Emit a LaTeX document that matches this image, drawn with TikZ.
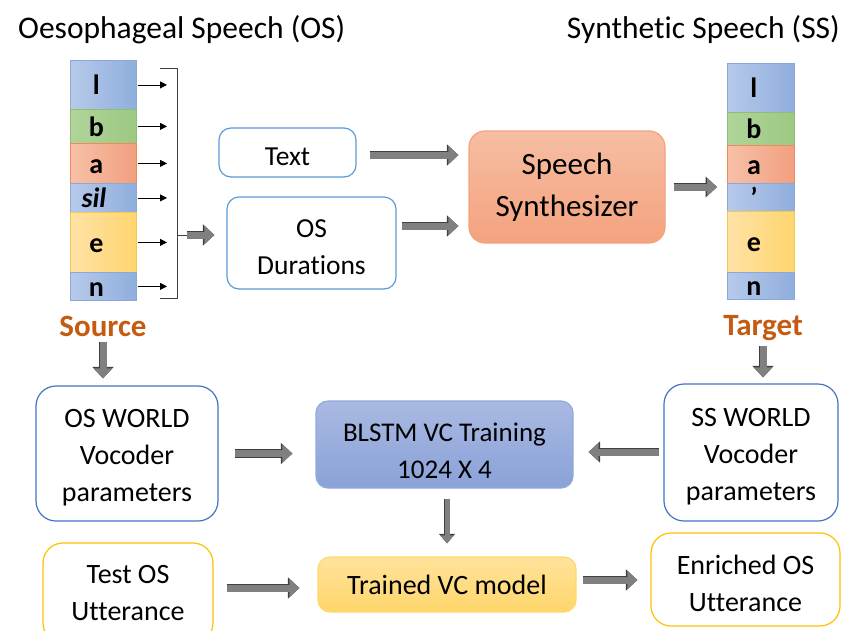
\documentclass[tikz,border=0pt]{standalone}
\usepackage{fontspec}
\setmainfont[Ligatures=NoCommon]{Carlito}
\usetikzlibrary{arrows.meta,calc}

\definecolor{segblueL}{HTML}{B7CAEA}
\definecolor{segblueR}{HTML}{8FAEDD}
\definecolor{segblueD}{HTML}{8BA8D8}
\definecolor{seggreenL}{HTML}{B0D49A}
\definecolor{seggreenR}{HTML}{9CC982}
\definecolor{seggreenD}{HTML}{8DBE72}
\definecolor{segredL}{HTML}{F7C1A8}
\definecolor{segredR}{HTML}{F29F7E}
\definecolor{segredD}{HTML}{EE8A5E}
\definecolor{segyelL}{HTML}{FFE2A6}
\definecolor{segyelR}{HTML}{FFD56E}
\definecolor{segyelD}{HTML}{F5C850}
\definecolor{boxblue}{HTML}{5B9BD5}
\definecolor{boxblue2}{HTML}{4472C4}
\definecolor{boxyel}{HTML}{FFC000}
\definecolor{synthT}{HTML}{F6BEA3}
\definecolor{synthB}{HTML}{F4A27E}
\definecolor{synthD}{HTML}{F4A37A}
\definecolor{blstmT}{HTML}{A9B9E2}
\definecolor{blstmB}{HTML}{8AA2D8}
\definecolor{blstmD}{HTML}{8FAADC}
\definecolor{trainT}{HTML}{FFE39C}
\definecolor{trainB}{HTML}{FFD66B}
\definecolor{trainD}{HTML}{FFD966}
\definecolor{arrfill}{HTML}{808080}
\definecolor{arrline}{HTML}{3F3F3F}
\definecolor{labelbrown}{HTML}{C55A11}

% invisible strut that lifts the first text line, pushing box text down
\newcommand\dropln[1]{\rule{0pt}{#1}}

\tikzset{
  x=1pt, y=-1pt,
  seglabel/.style={font=\fontsize{28}{32}\selectfont\bfseries, inner sep=0pt,
    text height=21pt, text depth=1pt, xshift=-7pt},
  seg/.style={rectangle, inner sep=0pt, minimum width=66pt, anchor=north west,
    line width=0.8pt},
  segblue/.style={seg, left color=segblueL, right color=segblueR, draw=segblueD},
  seggreen/.style={seg, left color=seggreenL, right color=seggreenR, draw=seggreenD},
  segred/.style={seg, left color=segredL, right color=segredR, draw=segredD},
  segyel/.style={seg, left color=segyelL, right color=segyelR, draw=segyelD},
  box/.style={rectangle, rounded corners=12pt, line width=1.2pt, align=center,
    inner sep=0pt, font=\fontsize{28}{37}\selectfont},
  bluebox/.style={box, draw=boxblue, fill=white, font=\fontsize{27.5}{37}\selectfont},
  bluebox2/.style={box, draw=boxblue2, fill=white, rounded corners=20pt},
  yelbox/.style={box, draw=boxyel, fill=white, rounded corners=20pt},
  barrow/.style={draw=arrfill, line width=7pt,
    -{Triangle[length=10pt,width=18pt]},
    preaction={draw=arrline, line width=8.6pt, -{Triangle[length=11.5pt,width=20.5pt]}}},
  barrowthin/.style={draw=arrfill, line width=5pt,
    -{Triangle[length=8pt,width=13pt]},
    preaction={draw=arrline, line width=6.4pt, -{Triangle[length=9.5pt,width=15.5pt]}}},
  smallarrow/.style={draw=black, line width=0.8pt, -{Triangle[length=7pt,width=7pt]}},
  title/.style={font=\fontsize{31.5}{36}\selectfont, inner sep=0pt},
  rolelabel/.style={font=\fontsize{31}{34}\selectfont\bfseries, text=labelbrown,
    inner sep=0pt, anchor=base},
}

\begin{document}
\begin{tikzpicture}
\useasboundingbox (0,0) rectangle (845,630);

% headings
\node[title, anchor=west] (ostitle) at (18,30) {Oesophageal Speech (OS)};
\node[title, anchor=east] (sstitle) at (840,30) {Synthetic Speech (SS)};

% source phone segments
\node[segblue,  minimum height=49pt, label={[seglabel]center:l}] (sl) at (70,60)  {};
\node[seggreen, minimum height=34pt, label={[seglabel]center:b}] (sb) at (70,109) {};
\node[segred,   minimum height=40pt, label={[seglabel]center:a}] (sa) at (70,143) {};
\node[segblue,  minimum height=29pt, label={[seglabel, xshift=-2.5pt]center:\itshape sil}] (ss) at (70,183) {};
\node[segyel,   minimum height=60pt, label={[seglabel]center:e}] (se) at (70,212) {};
\node[segblue,  minimum height=28pt, label={[seglabel]center:n}] (sn) at (70,272) {};

% target phone segments
\node[segblue,  minimum height=49pt, minimum width=67pt, label={[seglabel]center:l}] (tl) at (727,63)  {};
\node[seggreen, minimum height=33pt, minimum width=67pt, label={[seglabel]center:b}] (tb) at (727,112) {};
\node[segred,   minimum height=38pt, minimum width=67pt, label={[seglabel]center:a}] (ta) at (727,145) {};
\node[segblue,  minimum height=28pt, minimum width=67pt, label={[seglabel]center:’}] (tc) at (727,183) {};
\node[segyel,   minimum height=61pt, minimum width=67pt, label={[seglabel]center:e}] (te) at (727,211) {};
\node[segblue,  minimum height=27pt, minimum width=67pt, label={[seglabel]center:n}] (tn) at (727,272) {};

% bracket collecting the segment durations
\coordinate (brtop) at (177,68);
\coordinate (brbot) at (177,298);
\coordinate (brk) at (177,235);
\draw[draw=arrline, line width=1pt] ([xshift=-17pt]brtop) -- (brtop) -- (brbot) -- ([xshift=-17pt]brbot);
\foreach \s in {sl,sb,sa,ss,se,sn}
  \draw[smallarrow, shorten <=1pt, shorten >=10pt] (\s.east) -- (\s.east -| brk);

% upper boxes
\node[bluebox, minimum width=137pt, minimum height=49pt] (txt) at (287.5,152.5) {\dropln{27pt}Text};
\node[bluebox, minimum width=169pt, minimum height=92pt] (dur) at (311.5,243) {\dropln{26pt}OS\\Durations};
\node[box, rounded corners=16pt, top color=synthT, bottom color=synthB, draw=synthD,
      minimum width=196pt, minimum height=112pt,
      font=\fontsize{31}{42}\selectfont] (synth) at (567,187) {Speech\\Synthesizer};

% role labels
\node[rolelabel] (src) at (103,336) {Source};
\node[rolelabel] (tgt) at (763,335) {Target};

% lower boxes
\node[bluebox2, minimum width=182pt, minimum height=135pt] (osw) at (127,453.5) {\dropln{27pt}OS WORLD\\Vocoder\\parameters};
\node[box, top color=blstmT, bottom color=blstmB, draw=blstmD,
      minimum width=257pt, minimum height=87pt,
      font=\fontsize{27}{37}\selectfont] (blstm) at (444.5,444.5) {\dropln{31pt}BLSTM VC Training\\1024 X 4};
\node[bluebox2, minimum width=174pt, minimum height=137pt] (ssw) at (751,452.5) {\dropln{27pt}SS WORLD\\Vocoder\\parameters};
\node[yelbox, minimum width=170pt, minimum height=100pt] (test) at (128,593) {Test OS\\Utterance};
\node[box, top color=trainT, bottom color=trainB, draw=trainD,
      minimum width=258pt, minimum height=55pt] (trained) at (447,584.5) {Trained VC model};
\node[yelbox, minimum width=189pt, minimum height=93pt] (enr) at (745.5,579.5) {\dropln{27pt}Enriched OS\\Utterance};

% block arrows
\draw[draw=arrline, line width=1pt] (brk) -- ++(11,0);
\draw[barrow, shorten <=10pt, shorten >=12pt] (brk) -- (brk -| dur.west);
\draw[barrow, shorten <=13pt, shorten >=10pt] ([yshift=-2.5pt]txt.east) -- ([yshift=-2.5pt]txt.east -| synth.west);
\draw[barrow, shorten <=5pt, shorten >=10pt] ([yshift=17pt]dur.east) -- ([yshift=17pt]dur.east -| synth.west);
\draw[barrow, shorten <=8pt, shorten >=10pt] (synth.east) -- (synth.east -| ta.west);
\draw[barrow, shorten <=6pt, shorten >=7pt] (src.south) -- (src.south |- osw.north);
\draw[barrow, shorten <=6pt, shorten >=6pt] (tgt.south) -- (tgt.south |- ssw.north);
\draw[barrow, shorten <=16pt, shorten >=23pt] (osw.east) -- (osw.east -| blstm.west);
\draw[barrow, shorten <=4pt, shorten >=15pt] ([yshift=0.5pt]ssw.west) -- ([yshift=0.5pt]ssw.west -| blstm.east);
\draw[barrowthin, shorten <=10pt, shorten >=13pt] (trained.north |- blstm.south) -- (trained.north);
\draw[barrow, shorten <=13pt, shorten >=18pt] ([yshift=5pt]test.east) -- ([yshift=5pt]test.east -| trained.west);
\draw[barrow, shorten <=6pt, shorten >=13pt] ([yshift=4.5pt]trained.east) -- ([yshift=4.5pt]trained.east -| enr.west);
\end{tikzpicture}
\end{document}
